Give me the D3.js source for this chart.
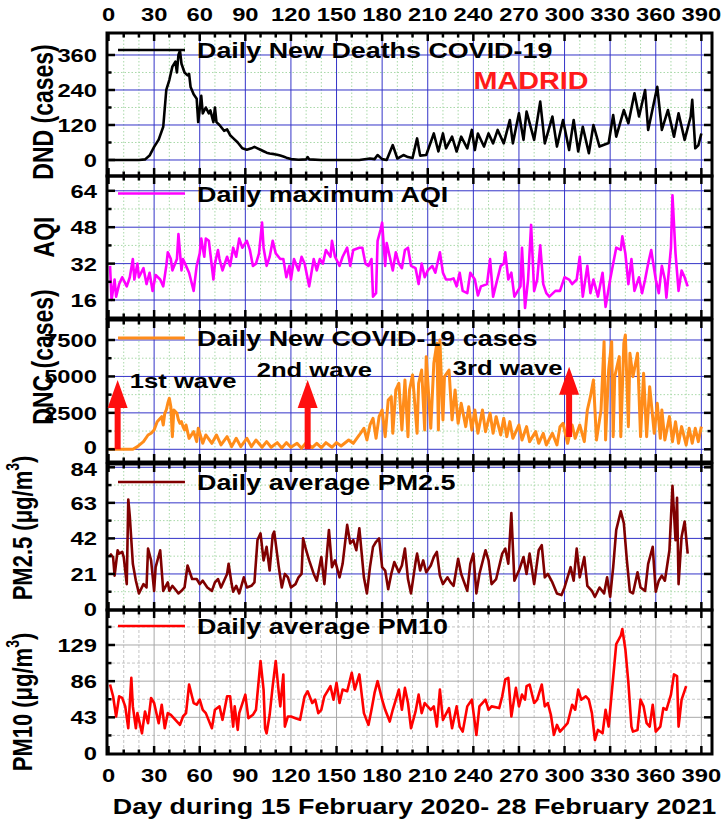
<!DOCTYPE html>
<html><head><meta charset="utf-8">
<script src="https://cdn.jsdelivr.net/npm/d3@7"></script>
<style>body{margin:0;background:#fff}svg{display:block}</style>
</head><body><svg id="c" width="722" height="829"></svg>
<script>
// ---------- data (day, value) ----------
const dayTicks = [0,30,60,90,120,150,180,210,240,270,300,330,360,390];
const dndTicks = [0,120,240,360];
const aqiTicks = [16,32,48,64];
const dncTicks = [0,2500,5000,7500];
const pm25Ticks = [0,21,42,63,84];
const pm10Ticks = [0,43,86,129];

const dnd = [[0,0],[10,0],[20,0],[24,2],[27,15],[30,45],[33,70],[36,114],[38,240],[40,274],[42,320],[44,337],[45,300],[46,360],[47,375],[48,330],[50,300],[52,290],[53,295],[54,250],[56,225],[58,210],[59,130],[61,220],[62,160],[64,180],[66,160],[67,170],[69,130],[70,180],[71,130],[73,120],[76,100],[78,105],[80,85],[82,75],[85,60],[88,40],[91,35],[94,40],[96,45],[98,40],[100,35],[102,30],[104,25],[106,22],[109,20],[111,18],[113,15],[115,12],[117,8],[120,3],[125,1],[130,2],[131,10],[132,2],[140,0],[150,0],[160,0],[165,0],[172,5],[175,3],[177,17],[180,3],[183,0],[187,51],[190,5],[194,17],[197,10],[200,7],[203,74],[205,15],[209,17],[214,91],[217,29],[220,91],[222,40],[226,80],[229,29],[232,80],[236,40],[239,103],[241,34],[243,91],[247,46],[250,91],[253,57],[256,103],[260,57],[264,137],[266,57],[270,160],[273,69],[275,166],[280,69],[284,200],[287,57],[292,149],[295,46],[299,137],[303,34],[306,137],[309,29],[312,114],[316,23],[319,120],[323,46],[329,58],[332,154],[334,80],[339,171],[342,126],[346,229],[349,149],[353,240],[355,103],[361,251],[364,103],[368,171],[372,80],[375,160],[379,69],[383,149],[384,206],[386,40],[388,50],[390,91]];

const aqi = [[1,31],[2,16],[4,25],[5,17.5],[7,23],[9,26],[12,22],[14,26],[16,34],[17,25],[19,32],[20,26],[23,30],[25,23],[27,28],[29,20],[31,27],[34,25],[36,22],[38,31],[39,37],[41,34],[42,29],[45,34],[46,45],[48,29],[49,34],[51,31],[53,28],[56,20],[58,31],[60,36.5],[61,43],[62,39],[63,35],[64,43],[66,42],[69,25],[70,32],[72,38],[73,34],[75,29],[78,35],[80,31],[82,39],[84,35],[86,43],[88,39],[91,42],[93,38],[95,31],[97,32],[99,36.5],[101,50],[102,39],[104,31],[106,35],[108,42],[110,36.5],[113,34],[115,34],[117,26],[119,31],[120,25],[122,34],[125,29],[127,35],[129,32],[132,22],[135,34],[137,29],[139,34],[141,32],[143,38],[146,35],[147,42],[149,35],[152,31],[154,35],[157,39],[159,31],[161,38],[165,39],[167,39],[169,32],[171,31],[173,34],[174,17.5],[176,19],[177,42],[179,47],[180,50],[182,31],[183,41],[185,35],[187,29],[189,37],[191,32],[193,30],[195,38],[197,39],[199,31],[202,30],[204,23],[206,32],[208,26],[210,29],[213,31],[215,28],[218,37],[220,28],[222,25],[225,25],[227,25.5],[229,22],[231,28],[233,20],[236,19],[238,28],[241,25],[243,18],[245,22],[249,23],[251,34],[253,17.5],[255,23],[258,31],[260,32],[261,37],[263,25],[265,28],[267,17.5],[271,22],[272,39],[274,12.5],[276,25],[278,49],[280,20],[282,25],[284,40],[286,23],[288,19],[290,17.5],[294,20],[297,20],[300,26],[303,25],[305,23],[308,25],[310,35],[312,17.5],[315,31],[317,19],[319,25],[322,17.5],[325,28],[327,13],[330,25],[332,32],[334,39],[337,38],[338,44],[340,36.5],[342,23],[344,34],[346,20],[349,26],[351,19],[353,25],[355,32],[357,38],[360,25],[362,19],[364,31],[366,25],[367,17],[370,39],[371,62],[373,36.5],[375,20],[377,29],[379,26],[381,22]];

const dnc = [[0,0],[5,0],[10,0],[16,0],[19,183],[23,526],[26,983],[28,1098],[30,1326],[32,1898],[35,2241],[36,1670],[37,2470],[38,2699],[39,3156],[40,3499],[41,2927],[42,869],[43,2699],[45,2470],[46,2013],[47,1784],[48,1898],[49,1555],[50,1326],[51,1670],[53,755],[56,1212],[58,526],[59,1441],[60,1098],[62,412],[64,983],[68,412],[71,983],[74,297],[78,869],[81,183],[84,755],[87,183],[91,755],[94,183],[97,640],[101,137],[104,526],[107,137],[111,457],[114,91],[117,457],[120,137],[124,412],[127,69],[130,457],[134,114],[137,412],[140,114],[143,457],[147,137],[150,457],[153,229],[158,640],[161,412],[165,983],[168,1441],[170,640],[172,1670],[174,2127],[176,755],[178,2241],[180,2699],[182,869],[184,3385],[186,3613],[187,1098],[189,4071],[191,4528],[193,1326],[195,4757],[197,869],[198,4071],[200,5100],[203,1098],[204,4528],[206,5443],[208,1326],[209,6358],[212,1441],[214,5900],[216,7273],[217,1326],[218,7501],[220,2013],[221,4986],[224,5443],[226,2013],[228,4071],[230,1784],[232,3156],[235,1555],[237,2927],[239,1326],[241,2699],[243,1098],[246,2699],[248,1212],[251,2470],[253,1098],[255,2241],[258,983],[260,2127],[262,869],[264,1898],[266,755],[270,1670],[272,640],[275,1555],[277,526],[281,1212],[283,412],[286,1098],[288,297],[292,1098],[295,297],[297,1555],[299,1784],[302,412],[305,1670],[307,755],[310,1670],[313,526],[315,2699],[317,3613],[319,4757],[321,640],[324,2699],[326,7387],[327,640],[329,5443],[331,7387],[332,869],[333,4986],[336,6358],[337,869],[339,7273],[340,7844],[342,1555],[343,6587],[345,4986],[348,6587],[350,869],[352,5214],[354,869],[356,4300],[359,1098],[361,3156],[363,755],[364,2699],[366,640],[369,2241],[371,526],[373,1898],[375,412],[377,1555],[380,297],[382,1441],[384,412],[386,1441],[388,526],[390,1555]];

const pm25 = [[1,33],[3,31],[4,20],[6,35],[7,33],[9,34],[10,31],[12,15],[13,65],[14,55],[16,27],[18,17],[20,9.5],[23,15],[25,13],[26,36],[28,29],[30,11],[31,25],[34,35],[36,11],[39,16],[40,11],[42,14],[46,9.5],[48,11],[50,13],[52,26],[55,18],[58,18],[60,15],[62,17],[65,13],[68,11],[70,16],[72,18],[74,13],[78,21],[79,27],[81,15],[82,10.5],[84,14],[86,9.5],[89,19],[91,13],[94,14],[96,16],[98,41],[100,45],[102,29],[104,37],[106,23],[108,44],[109,46],[112,25],[114,13],[116,21],[118,19],[120,13],[123,15],[125,19],[127,21],[128,42],[130,35],[132,29],[135,21],[137,17],[140,31],[142,15],[145,47],[147,25],[149,29],[152,19],[154,27],[157,50],[159,39],[161,41],[163,35],[165,48],[168,19],[170,9.5],[172,25],[174,37],[176,40],[178,42],[180,25],[182,23],[184,12],[186,21],[188,28],[191,22],[193,26],[195,36],[197,18],[199,9.5],[202,28],[203,33],[205,23],[207,29],[209,22],[212,26],[214,31],[216,34],[218,20],[220,15],[223,19],[225,16],[227,14],[230,30],[232,21],[236,11],[238,27],[240,33],[242,9.5],[244,21],[248,35],[250,29],[252,15],[255,18],[259,33],[261,36],[263,27],[265,57],[267,17],[270,23],[273,31],[275,21],[277,33],[280,15],[283,35],[285,38],[287,19],[289,21],[292,16],[295,9.5],[298,8.5],[300,13],[304,25],[306,17],[308,36],[310,19],[313,31],[315,14],[318,11],[320,7.5],[323,13],[326,9.5],[328,19],[330,7.5],[332,25],[334,47],[337,58],[339,51],[341,29],[343,10.5],[345,9.5],[348,22],[350,13],[353,11],[355,27],[358,37],[360,10.5],[362,17],[364,20],[366,17],[369,35],[371,73],[373,41],[374,66],[375,15],[377,43],[379,52],[381,33]];

const pm10 = [[1,82],[3,68],[5,44],[7,68],[9,66],[11,56],[13,30],[15,90],[16,56],[18,30],[19,48],[22,24],[24,50],[26,36],[28,66],[30,60],[33,36],[35,58],[37,30],[39,48],[41,46],[44,40],[47,34],[49,44],[51,48],[53,82],[56,60],[58,58],[60,64],[62,52],[64,48],[68,30],[70,52],[73,56],[75,40],[78,68],[80,68],[82,32],[83,56],[85,28],[86,48],[90,70],[92,42],[95,46],[97,52],[100,110],[102,76],[103,30],[104,24],[106,46],[108,80],[110,110],[112,72],[113,56],[115,94],[116,32],[118,44],[120,44],[123,42],[126,40],[129,68],[131,74],[134,60],[136,64],[138,48],[140,52],[142,68],[146,80],[148,64],[150,84],[152,60],[154,76],[157,74],[160,96],[162,76],[165,94],[168,48],[171,34],[173,52],[175,72],[177,86],[180,64],[182,52],[185,38],[187,52],[191,76],[193,52],[195,78],[197,60],[199,30],[202,50],[204,70],[206,48],[208,60],[212,52],[214,56],[216,32],[218,76],[220,40],[224,54],[226,30],[229,56],[231,32],[233,26],[236,56],[239,64],[242,22],[244,56],[248,64],[250,52],[252,56],[257,54],[259,68],[261,88],[263,90],[265,44],[268,78],[270,56],[272,70],[274,64],[275,80],[277,82],[280,60],[282,64],[285,82],[287,56],[289,60],[291,46],[293,22],[295,34],[297,26],[299,30],[302,36],[305,58],[307,52],[309,76],[311,64],[314,68],[316,64],[318,48],[320,16],[322,28],[325,24],[327,52],[329,32],[334,130],[337,140],[338,148],[340,124],[342,84],[344,32],[345,26],[348,28],[350,64],[352,56],[354,36],[356,32],[358,58],[360,26],[363,32],[365,54],[367,52],[370,70],[372,94],[374,92],[375,32],[377,64],[380,80]];

// annotations (day, DNC value)
const waveArrows = [{day:6, base:0, tip:4760},{day:131, base:0, tip:4760},{day:303, base:850, tip:5660}];
const waveLabels = [{text:"1st wave", day:14, v:4210},{text:"2nd wave", day:97.5, v:4965},{text:"3rd wave", day:226.5, v:5110}];

// ---------- drawing ----------
const FONT = '"Liberation Sans", Arial, Helvetica, sans-serif';
const SX = 1.25;
const svg = d3.select("#c");
const x = d3.scaleLinear().domain([-1, 397]).range([107, 712]);

function txt(g, px, py, s, o) {
  o = o || {};
  const rot = o.rotate ? " rotate(-90)" : "";
  const t = g.append("text")
    .attr("transform", `translate(${px},${py}) scale(${SX},1)${rot}`)
    .attr("font-family", FONT).attr("font-weight", "bold")
    .attr("font-size", o.size || 20)
    .attr("fill", o.fill || "#000")
    .attr("text-anchor", o.anchor || "start");
  if (o.central) t.attr("dominant-baseline", "central");
  t.text(s);
  return t;
}

const panels = [
  {id:"dnd", data:dnd, color:"#000000", lw:2.6, top:33, bottom:176, domain:[-54.9,435.4], ticks:dndTicks, minor:[60,180,300], label:"DND (cases)", lx:43, ly:112, legend:"Daily New Deaths COVID-19", legY:50, grid:"blue", nudge:{}},
  {id:"aqi", data:aqi, color:"#ff00ff", lw:2.6, top:176, bottom:318, domain:[8.1,70.5], ticks:aqiTicks, minor:[24,40,56], label:"AQI", lx:44, ly:237, legend:"Daily maximum AQI", legY:193.5, grid:"blue", nudge:{}},
  {id:"dnc", data:dnc, color:"#ff8c1a", lw:3, top:320, bottom:462, domain:[-871,8872], ticks:dncTicks, minor:[1250,3750,6250], label:"DNC (cases)", lx:43, ly:357, legend:"Daily New COVID-19 cases", legY:338, grid:"blue", nudge:{0:-2.5}},
  {id:"pm25", data:pm25, color:"#800000", lw:2.6, top:464, bottom:610, domain:[-0.3,85.95], ticks:pm25Ticks, minor:[10.5,31.5,52.5,73.5], label:"PM2.5", lx:22, ly:528, legend:"Daily average PM2.5", legY:482, grid:"blue", unit:true, nudge:{84:2}},
  {id:"pm10", data:pm10, color:"#ff0000", lw:2.6, top:610, bottom:754, domain:[-0.6,170.6], ticks:pm10Ticks, minor:[21.5,64.5,107.5,150.5], label:"PM10", lx:22, ly:702, legend:"Daily average PM10", legY:626, grid:"grey", unit:true, nudge:{}}
];

const minorDays = d3.range(10, 397, 10).filter(d => d % 30 !== 0);
const X0 = x.range()[0], X1 = x.range()[1];

panels.forEach((p, i) => {
  const y = d3.scaleLinear().domain(p.domain).range([p.bottom, p.top]);
  p.y = y;
  const g = svg.append("g");
  const clipId = "clip" + i;
  svg.append("clipPath").attr("id", clipId).append("rect")
    .attr("x", X0).attr("y", p.top).attr("width", X1 - X0).attr("height", p.bottom - p.top);

  const majC = p.grid === "blue" ? "#3434c8" : "#a8a8a8";
  const minC = p.grid === "blue" ? "#a9d9a9" : "#c4c4c4";
  const minDash = p.grid === "blue" ? "1.5,2" : "3,2";
  const grid = g.append("g");
  grid.selectAll(".vmin").data(minorDays).join("line")
    .attr("x1", d => x(d)).attr("x2", d => x(d)).attr("y1", p.top).attr("y2", p.bottom)
    .attr("stroke", minC).attr("stroke-width", 1).attr("stroke-dasharray", minDash);
  grid.selectAll(".hmin").data(p.minor).join("line")
    .attr("x1", X0).attr("x2", X1).attr("y1", d => y(d)).attr("y2", d => y(d))
    .attr("stroke", minC).attr("stroke-width", 1).attr("stroke-dasharray", minDash);
  grid.selectAll(".vmaj").data(dayTicks.filter(d => d > 0)).join("line")
    .attr("x1", d => x(d)).attr("x2", d => x(d)).attr("y1", p.top).attr("y2", p.bottom)
    .attr("stroke", majC).attr("stroke-width", 1);
  grid.selectAll(".hmaj").data(p.ticks).join("line")
    .attr("x1", X0).attr("x2", X1).attr("y1", d => y(d)).attr("y2", d => y(d))
    .attr("stroke", majC).attr("stroke-width", 1);

  // series
  const line = d3.line().x(d => x(d[0])).y(d => y(d[1]));
  g.append("path").datum(p.data).attr("d", line)
    .attr("fill", "none").attr("stroke", p.color).attr("stroke-width", p.lw)
    .attr("stroke-linejoin", "round").attr("clip-path", `url(#${clipId})`);

  // frame
  g.append("rect").attr("x", X0).attr("y", p.top).attr("width", X1 - X0).attr("height", p.bottom - p.top)
    .attr("fill", "none").attr("stroke", "#000").attr("stroke-width", 3);

  // x ticks (inward, top and bottom)
  const tk = g.append("g").attr("stroke", "#000").attr("stroke-width", 2.5);
  dayTicks.concat(minorDays).forEach(d => {
    const L = d % 30 === 0 ? 8 : 4.5;
    tk.append("line").attr("x1", x(d)).attr("x2", x(d)).attr("y1", p.top).attr("y2", p.top + L);
    tk.append("line").attr("x1", x(d)).attr("x2", x(d)).attr("y1", p.bottom).attr("y2", p.bottom - L);
  });
  // y ticks (inward, left and right)
  p.ticks.concat(p.minor).forEach(v => {
    const L = p.ticks.includes(v) ? 8 : 4.5;
    const yy = y(v);
    if (yy < p.top + 1 || yy > p.bottom - 1) return;
    tk.append("line").attr("x1", X0).attr("x2", X0 + L).attr("y1", yy).attr("y2", yy);
    tk.append("line").attr("x1", X1).attr("x2", X1 - L).attr("y1", yy).attr("y2", yy);
  });

  // y tick labels
  p.ticks.forEach(v => txt(g, 97, y(v) + 7 + (p.nudge[v] || 0), String(v), {size:19, anchor:"end"}));

  // axis label (rotated)
  if (p.unit) {
    const t = g.append("text")
      .attr("transform", `translate(${p.lx},${p.ly}) scale(${SX},1) rotate(-90)`)
      .attr("font-family", FONT).attr("font-weight", "bold").attr("font-size", 22)
      .attr("text-anchor", "middle").attr("dominant-baseline", "central");
    t.append("tspan").text(p.label + " (\u03BCg/m");
    t.append("tspan").attr("font-size", 14).attr("dy", -8).text("3");
    t.append("tspan").attr("dy", 8).text(")");
  } else {
    txt(g, p.lx, p.ly, p.label, {size:23, anchor:"middle", rotate:true, central:true});
  }

  // legend
  g.append("line").attr("x1", 118).attr("x2", 185).attr("y1", p.legY).attr("y2", p.legY)
    .attr("stroke", p.color).attr("stroke-width", p.lw);
  txt(g, 197, p.legY + 8, p.legend, {size:21.5});
});

// top & bottom day tick labels
dayTicks.forEach(d => {
  txt(svg, x(d), 21, String(d), {size:19, anchor:"middle"});
  txt(svg, x(d), 782, String(d), {size:19, anchor:"middle"});
});
txt(svg, (X0 + X1) / 2 + 5, 814, "Day during 15 February 2020- 28 February 2021", {size:21.5, anchor:"middle"});

// MADRID
txt(svg, 531, 89, "MADRID", {size:23, anchor:"middle", fill:"#ff1a1a"});

// wave annotations on DNC panel
const yd = panels[2].y;
const ag = svg.append("g").attr("fill", "#ff0f0f");
waveArrows.forEach(a => {
  const cx = x(a.day), yb = yd(a.base), yt = yd(a.tip);
  const hl = 28, hw = 10, sw = 3;
  ag.append("path").attr("d",
    `M${cx - sw},${yb} L${cx - sw},${yt + hl} L${cx - hw},${yt + hl} L${cx},${yt} L${cx + hw},${yt + hl} L${cx + sw},${yt + hl} L${cx + sw},${yb} Z`);
});
waveLabels.forEach(w => txt(svg, x(w.day), yd(w.v), w.text, {size:20.5}));
</script></body></html>
